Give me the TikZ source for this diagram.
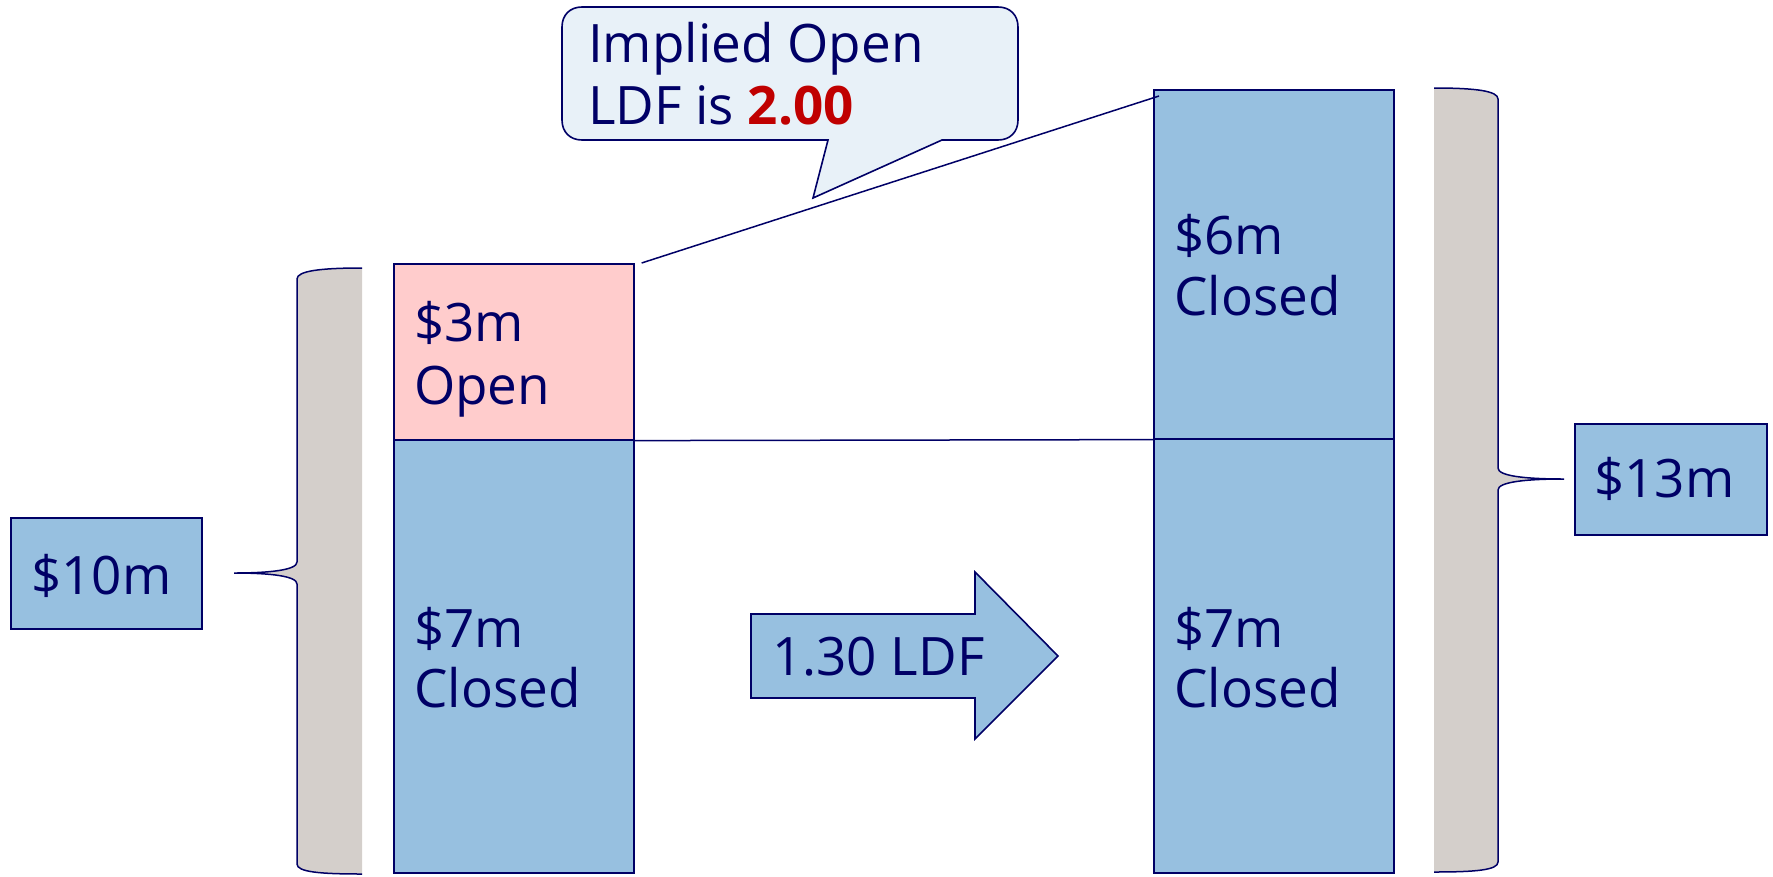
\documentclass[tikz,border=0pt]{standalone}
\usepackage{fontspec}
\setmainfont{Open Sans}
\usetikzlibrary{calc}
\definecolor{navy}{RGB}{0,0,102}
\definecolor{barblue}{RGB}{151,192,224}
\definecolor{openpink}{RGB}{255,204,204}
\definecolor{bracegray}{RGB}{212,207,203}
\definecolor{callfill}{RGB}{232,241,248}
\definecolor{hired}{RGB}{192,0,0}
\tikzset{
  bar/.style={draw=navy, line width=1.6pt, inner sep=0pt, anchor=north west},
  lbl/.style={text=navy, font=\fontsize{53}{60}\selectfont, anchor=base west, inner sep=0pt},
  conn/.style={draw=navy, line width=1.5pt},
}
\begin{document}
\begin{tikzpicture}[x=1pt,y=-1pt]
\useasboundingbox (0,0) rectangle (1773,876);
% left brace
\fill[bracegray] (362,268) .. controls (320,268) and (297,271) .. (297,279) -- (297,562) .. controls (297,570) and (270,573) .. (234,573) .. controls (270,573) and (297,576) .. (297,584) -- (297,864) .. controls (297,872) and (320,874) .. (362,874) -- cycle;
\draw[conn] (362,268) .. controls (320,268) and (297,271) .. (297,279) -- (297,562) .. controls (297,570) and (270,573) .. (234,573) .. controls (270,573) and (297,576) .. (297,584) -- (297,864) .. controls (297,872) and (320,874) .. (362,874);
% right brace
\fill[bracegray] (1434,88) .. controls (1476,88) and (1498,91) .. (1498,99) -- (1498,468) .. controls (1498,476) and (1525,479) .. (1564,479) .. controls (1525,479) and (1498,482) .. (1498,490) -- (1498,862) .. controls (1498,870) and (1476,872) .. (1434,872) -- cycle;
\draw[conn] (1434,88) .. controls (1476,88) and (1498,91) .. (1498,99) -- (1498,468) .. controls (1498,476) and (1525,479) .. (1564,479) .. controls (1525,479) and (1498,482) .. (1498,490) -- (1498,862) .. controls (1498,870) and (1476,872) .. (1434,872);
% boxes
\node[bar, fill=barblue, minimum width=191pt, minimum height=111pt] (b10) at (10,517) {};
\node[lbl] (t10) at (31,594) {\$10m};
\node[bar, fill=barblue, minimum width=192pt, minimum height=111pt] (b13) at (1574,423) {};
\node[lbl] (t13) at (1594,497) {\$13m};
% left stack
\node[bar, fill=openpink, minimum width=240pt, minimum height=176pt] (open) at (393,263) {};
\node[bar, fill=barblue, minimum width=240pt, minimum height=433pt] (lclosed) at (393,439) {};
\node[lbl] (to1) at (414,341) {\$3m};
\node[lbl] (to2) at (414,404) {Open};
\node[lbl] (tl1) at (414,647) {\$7m};
\node[lbl] (tl2) at (414,707) {Closed};
% right stack
\node[bar, fill=barblue, minimum width=240pt, minimum height=349pt] (rtop) at (1153,89) {};
\node[bar, fill=barblue, minimum width=240pt, minimum height=434pt] (rbot) at (1153,438) {};
\node[lbl] (tr1) at (1174,254) {\$6m};
\node[lbl] (tr2) at (1174,315) {Closed};
\node[lbl] (tr3) at (1174,647) {\$7m};
\node[lbl] (tr4) at (1174,707) {Closed};
% connectors
\coordinate (dstart) at ($(open.north east)+(7,0)$);
\coordinate (dend) at ($(rtop.north west)+(6,7)$);
\draw[conn] (dstart) -- (dend);
\draw[conn] (open.south east) -- (rtop.south west);
% arrow
\filldraw[fill=barblue, draw=navy, line width=1.6pt] (751,614) -- (975,614) -- (975,572) -- (1058,656) -- (975,739) -- (975,698) -- (751,698) -- cycle;
\node[lbl] (tarrow) at (772,675) {1.30 LDF};
% callout
\filldraw[fill=callfill, draw=navy, line width=1.6pt] (582,7) -- (998,7) .. controls (1010,7) and (1018,15) .. (1018,27) -- (1018,120) .. controls (1018,132) and (1010,140) .. (998,140) -- (942,140) -- (813,198) -- (828,140) -- (582,140) .. controls (570,140) and (562,132) .. (562,120) -- (562,27) .. controls (562,15) and (570,7) .. (582,7) -- cycle;
\node[lbl] (c1) at (588,62) {Implied Open};
\node[lbl] (c2) at (588,124) {LDF is \textcolor{hired}{\bfseries 2.00}};
\end{tikzpicture}
\end{document}
